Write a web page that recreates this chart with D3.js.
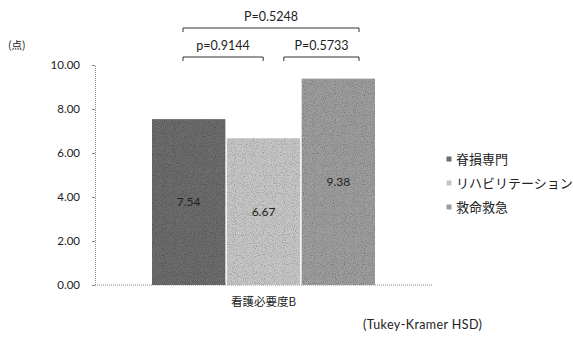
<!DOCTYPE html>
<html>
<head>
<meta charset="utf-8">
<script src="https://cdn.jsdelivr.net/npm/d3@7/dist/d3.min.js"></script>
<style>
  html, body { margin: 0; padding: 0; background: #fff; }
  svg { display: block; }
  text { font-family: "Lato", "Noto Sans CJK JP", sans-serif; fill: #222; }
  .jp { font-family: "Noto Sans CJK JP", sans-serif; }
</style>
</head>
<body>
<svg id="chart" width="573" height="337"></svg>
<script>
// Series (one category, three groups)
const category = "看護必要度B";
const seriesNames = ["脊損専門", "リハビリテーション", "救命救急"];
const seriesValues = [7.54, 6.67, 9.38];
const seriesColors = ["#6c6c6c", "#c6c6c6", "#9d9d9d"];
const yTicks = [0, 2, 4, 6, 8, 10];
// Pairwise comparisons (Tukey-Kramer HSD)
const comparisons = [
  { from: 0, to: 1, label: "p=0.9144", level: 0 },
  { from: 1, to: 2, label: "P=0.5733", level: 0 },
  { from: 0, to: 2, label: "P=0.5248", level: 1 }
];

const svg = d3.select("#chart");

const plot = { left: 95, right: 432, top: 65, bottom: 285 };

const y = d3.scaleLinear().domain([0, 10]).range([plot.bottom, plot.top]);
const xBand = d3.scaleBand().domain(seriesNames).range([152, 375]).paddingInner(0.02);

// grain texture for bars
const defs = svg.append("defs");
const f = defs.append("filter").attr("id", "grain").attr("x", 0).attr("y", 0).attr("width", 1).attr("height", 1);
f.append("feTurbulence").attr("type", "fractalNoise").attr("baseFrequency", 0.9).attr("numOctaves", 1).attr("seed", 3).attr("result", "noise");
f.append("feColorMatrix").attr("in", "noise").attr("type", "matrix")
  .attr("values", "0 0 0 0 0  0 0 0 0 0  0 0 0 0 0  0 0 0 -1.4 0.75").attr("result", "dark");
f.append("feComposite").attr("in", "dark").attr("in2", "SourceGraphic").attr("operator", "in").attr("result", "darkIn");
f.append("feMerge").selectAll("feMergeNode").data(["SourceGraphic", "darkIn"]).join("feMergeNode").attr("in", d => d);

// y axis
const yAxis = d3.axisLeft(y).tickValues(yTicks).tickFormat(d3.format(".2f")).tickSize(3).tickPadding(12);
const gy = svg.append("g").attr("transform", `translate(${plot.left},0)`).call(yAxis);
gy.select(".domain").attr("stroke", "#888").attr("stroke-dasharray", "1,1");
gy.selectAll(".tick line").attr("stroke", "#888");
gy.selectAll(".tick text").attr("font-size", 11.5).style("font-family", "Lato, sans-serif").attr("fill", "#222");

// x axis baseline
const xLine = d3.scaleLinear().range([plot.left, plot.right]);
svg.append("line")
  .attr("x1", xLine(0)).attr("x2", xLine(1))
  .attr("y1", y(0)).attr("y2", y(0))
  .attr("stroke", "#888").attr("stroke-dasharray", "1,1");

// bars
svg.append("g").selectAll("rect").data(seriesValues).join("rect")
  .attr("x", (d, i) => xBand(seriesNames[i]))
  .attr("width", xBand.bandwidth())
  .attr("y", d => y(d))
  .attr("height", d => y(0) - y(d))
  .attr("fill", (d, i) => seriesColors[i])
  .attr("filter", "url(#grain)");

// value labels
svg.append("g").selectAll("text").data(seriesValues).join("text")
  .attr("x", (d, i) => xBand(seriesNames[i]) + xBand.bandwidth() / 2)
  .attr("y", d => (y(d) + y(0)) / 2)
  .attr("dy", "0.35em")
  .attr("text-anchor", "middle")
  .attr("font-size", 12)
  .text(d => d.toFixed(2));

// category label
svg.append("text").attr("class", "jp")
  .attr("x", (xBand.range()[0] + xBand.range()[1]) / 2)
  .attr("y", 302).attr("dy", "0.35em")
  .attr("text-anchor", "middle").attr("font-size", 11.5)
  .text(category);

// unit label
svg.append("text").attr("class", "jp")
  .attr("x", 8).attr("y", 45).attr("dy", "0.35em")
  .attr("font-size", 10.5).text("(点)");

// comparison brackets
const levelY = [57, 28];
comparisons.forEach(c => {
  const x1 = xBand(seriesNames[c.from]) + 31 + (c.from === 1 ? 26 : 0);
  const x2 = xBand(seriesNames[c.to]) + xBand.bandwidth() - (c.to === 1 ? 37 : 16);
  const by = levelY[c.level];
  svg.append("path")
    .attr("d", `M${x1},${by + 4}V${by}H${x2}V${by + 4}`)
    .attr("fill", "none").attr("stroke", "#333").attr("stroke-width", 1);
  svg.append("text")
    .attr("x", (x1 + x2) / 2).attr("y", by - 11).attr("dy", "0.35em")
    .attr("text-anchor", "middle").attr("font-size", 12.5)
    .text(c.label);
});

// legend
const legend = svg.append("g").attr("transform", "translate(449,159)");
const rows = legend.selectAll("g").data(seriesNames).join("g")
  .attr("transform", (d, i) => `translate(0,${i * 24})`);
rows.append("rect").attr("x", -2.5).attr("y", -2.5).attr("width", 5).attr("height", 5)
  .attr("fill", (d, i) => seriesColors[i]);
rows.append("text").attr("class", "jp")
  .attr("x", 7).attr("dy", "0.35em").attr("font-size", 13)
  .text(d => d);

// footnote
svg.append("text")
  .attr("x", 363).attr("y", 325).attr("dy", "0.35em")
  .attr("font-size", 12.5).attr("letter-spacing", 0.4).text("(Tukey-Kramer HSD)");
</script>
</body>
</html>
